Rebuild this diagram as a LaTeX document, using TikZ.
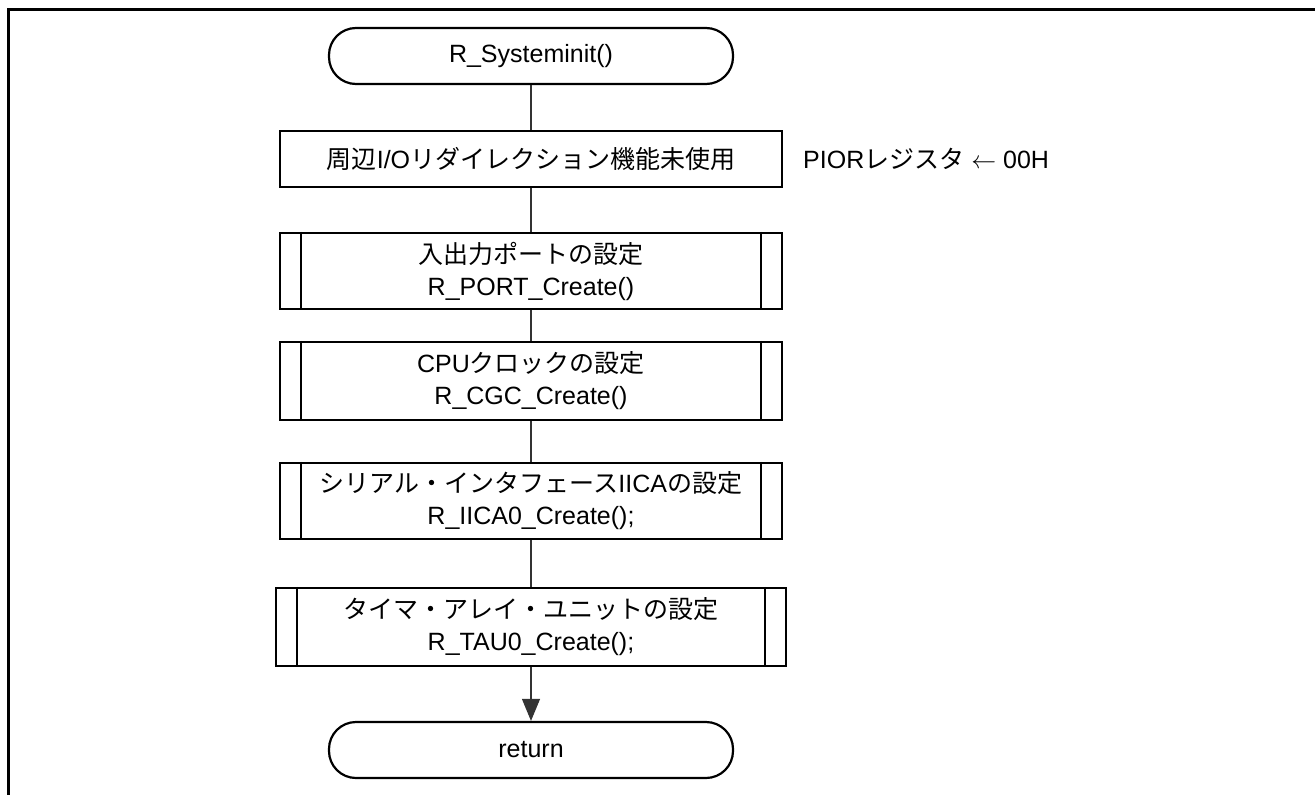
\documentclass[tikz,border=0pt]{standalone}
\usepackage{fontspec}
\setmainfont{Liberation Sans}
\newfontfamily\jp{Noto Sans CJK JP}
\usetikzlibrary{arrows.meta,calc}
\tikzset{
  every node/.style={font=\fontsize{25}{32}\selectfont},
  term/.style={draw, line width=2.2pt, rounded corners=27pt, minimum width=404pt, minimum height=56pt, inner sep=0pt},
  proc/.style={draw, line width=2.4pt, minimum width=502pt, minimum height=56pt, inner sep=0pt, align=center},
  flow/.style={line width=1.1pt, draw=black!80},
  bar/.style={line width=2.4pt},
  frame/.style={line width=3pt}
}
\begin{document}
\begin{tikzpicture}[x=1pt,y=-1pt]
\useasboundingbox (0,0) rectangle (1315,795);
\coordinate (fTL) at (8,9);
\coordinate (fTR) at (1315,9);
\coordinate (fBL) at (8,795);
\draw[frame] (fTR) -- (fTL) -- (fBL);

\node[term] (start) at (531,56) {R\_Systeminit()};
\node[proc] (b1) at (531,159) {{\jp 周辺}I/O{\jp リダイレクション機能未使用}};
\node[proc, minimum height=76pt] (b2) at (531,271) {{\jp 入出力ポートの設定}\\R\_PORT\_Create()};
\node[proc, minimum height=78pt] (b3) at (531,381) {CPU{\jp クロックの設定}\\R\_CGC\_Create()};
\node[proc, minimum height=76pt] (b4) at (531,501) {{\jp シリアル・インタフェース}IICA{\jp の設定}\\R\_IICA0\_Create();};
\node[proc, minimum height=78pt, minimum width=510pt] (b5) at (531,627) {{\jp タイマ・アレイ・ユニットの設定}\\R\_TAU0\_Create();};
\node[term] (ret) at (531,750) {return};

\node[anchor=west, inner sep=0pt] (pior) at (803,159) {PIOR{\jp レジスタ} $\leftarrow$ 00H};

\foreach \n in {b2,b3,b4,b5}{
  \draw[bar] ($(\n.north west)+(22,0)$) -- ($(\n.south west)+(22,0)$);
  \draw[bar] ($(\n.north east)+(-22,0)$) -- ($(\n.south east)+(-22,0)$);
}

\draw[flow] (start) -- (b1);
\draw[flow] (b1) -- (b2);
\draw[flow] (b2) -- (b3);
\draw[flow] (b3) -- (b4);
\draw[flow] (b4) -- (b5);
\draw[flow, -{Triangle[length=22pt,width=18pt]}] (b5) -- (ret);
\end{tikzpicture}
\end{document}
